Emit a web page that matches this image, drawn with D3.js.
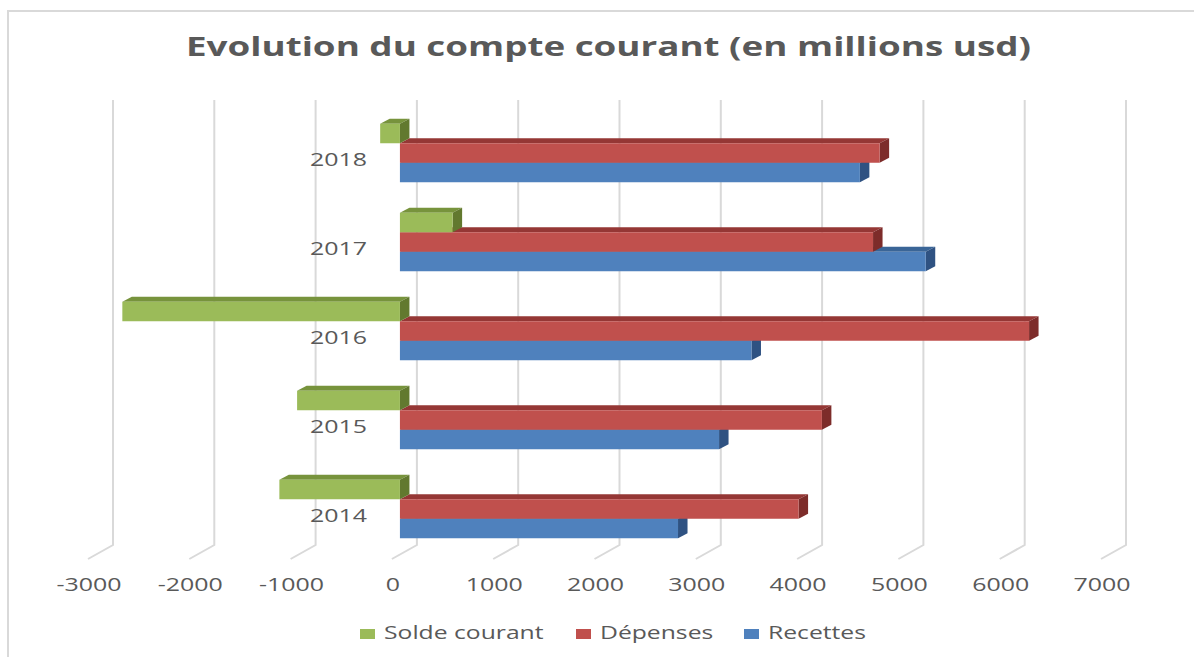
<!DOCTYPE html>
<html>
<head>
<meta charset="utf-8">
<script src="https://cdn.jsdelivr.net/npm/d3@7"></script>
<style>
  body { margin: 0; background: #fff; }
  text { font-family: "Open Sans", sans-serif; fill: #595959; }
</style>
</head>
<body>
<svg id="chart"></svg>
<script>
// data (millions usd)
var years = ["2014", "2015", "2016", "2017", "2018"];
var seriesNames = ["Solde courant", "Dépenses", "Recettes"];
var solde    = [-1190, -1015, -2740, 520, -195];
var depenses = [3935, 4165, 6210, 4670, 4735];
var recettes = [2745, 3150, 3470, 5190, 4540];
var ticks = [-3000, -2000, -1000, 0, 1000, 2000, 3000, 4000, 5000, 6000, 7000];

var W = 1194, H = 657;
var colors = {
  "Solde courant": {front: "#9bbb59", top: "#77933c", side: "#62792f"},
  "Dépenses":      {front: "#c0504d", top: "#953735", side: "#7d2c2a"},
  "Recettes":      {front: "#4f81bd", top: "#3a6597", side: "#2f5282"}
};
var depthX = 9.5, depthY = -5;

var svg = d3.select("#chart").attr("width", W).attr("height", H);

// outer border (only top / left visible in the screenshot)
svg.append("path")
  .attr("d", "M8," + (H + 5) + "V11H" + (W + 5))
  .attr("fill", "none").attr("stroke", "#d9d9d9").attr("stroke-width", 2);

// back wall scale and front (bar) scale
var xBack = d3.scaleLinear().domain([-3000, 7000]).range([113, 1126]);
var xFront = d3.scaleLinear().domain([-3000, 7000]).range([96, 1109.1]);
var wallTop = 100, wallBottom = 545, floorDx = -25, floorDy = 14;

var y = d3.scaleBand().domain(years.slice().reverse()).range([108.5, 553.5]);
var ySub = d3.scaleBand().domain(seriesNames).range([15.25, 73.75]);

// gridlines on the back wall + floor
var grid = svg.append("g");
grid.selectAll("path").data(ticks).enter().append("path")
  .attr("d", function (d) {
    return "M" + xBack(d) + "," + wallTop + "V" + wallBottom +
      "L" + (xBack(d) + floorDx) + "," + (wallBottom + floorDy);
  })
  .attr("fill", "none").attr("stroke", "#d9d9d9").attr("stroke-width", 2);

function stretch(sel, k) {
  sel.each(function () {
    var w = this.getComputedTextLength();
    d3.select(this).attr("textLength", w * k).attr("lengthAdjust", "spacingAndGlyphs");
  });
}

// tick labels
var tickLabels = svg.append("g").selectAll("text").data(ticks).enter().append("text")
  .attr("x", function (d) { return xBack(d) + floorDx + 1; })
  .attr("y", 591)
  .attr("text-anchor", "middle")
  .style("font-size", "19px")
  .text(function (d) { return d; });
var probe = svg.append("text").style("font-size", "19px").text("7000");
var kTick = 57 / probe.node().getComputedTextLength();
probe.remove();
stretch(tickLabels, kTick);

// bars
var rows = years.map(function (yr, i) {
  return {year: yr, "Solde courant": solde[i], "Dépenses": depenses[i], "Recettes": recettes[i]};
});

function quad(pts) { return "M" + pts.map(function (p) { return p.join(","); }).join("L") + "Z"; }

var drawOrder = ["Recettes", "Dépenses", "Solde courant"];
drawOrder.forEach(function (s) {
  var g = svg.append("g");
  rows.forEach(function (r) {
    var v = r[s];
    var x0 = xFront(Math.min(0, v)), x1 = xFront(Math.max(0, v));
    var y0 = y(r.year) + ySub(s), y1 = y0 + ySub.bandwidth();
    var c = colors[s];
    g.append("path").attr("d", quad([[x0, y0], [x0 + depthX, y0 + depthY], [x1 + depthX, y0 + depthY], [x1, y0]]))
      .attr("fill", c.top);
    g.append("path").attr("d", quad([[x1, y0], [x1 + depthX, y0 + depthY], [x1 + depthX, y1 + depthY], [x1, y1]]))
      .attr("fill", c.side);
    g.append("rect").attr("x", x0).attr("y", y0).attr("width", x1 - x0).attr("height", y1 - y0)
      .attr("fill", c.front);
  });
});

// year labels
var yearLabels = svg.append("g").selectAll("text").data(years).enter().append("text")
  .attr("x", 367)
  .attr("y", function (d) { return y(d) + y.bandwidth() / 2 + 13; })
  .attr("text-anchor", "end")
  .style("font-size", "19px")
  .text(function (d) { return d; });
stretch(yearLabels, kTick);

// title
var title = svg.append("text")
  .attr("x", 186).attr("y", 56)
  .style("font-size", "27px").style("font-weight", "bold")
  .text("Evolution du compte courant (en millions usd)");
title.attr("textLength", 845).attr("lengthAdjust", "spacingAndGlyphs");

// legend
var legX = [360, 576, 744];
var leg = svg.append("g").selectAll("g").data(seriesNames).enter().append("g");
leg.append("rect")
  .attr("x", function (d, i) { return legX[i]; })
  .attr("y", 629).attr("width", 15).attr("height", 10)
  .attr("fill", function (d) { return colors[d].front; });
var legText = leg.append("text")
  .attr("x", function (d, i) { return legX[i] + 24; })
  .attr("y", 639)
  .style("font-size", "18px")
  .text(function (d) { return d; });
var probe2 = svg.append("text").style("font-size", "18px").text("Recettes");
var kLeg = 98 / probe2.node().getComputedTextLength();
probe2.remove();
stretch(legText, kLeg);
</script>
</body>
</html>
